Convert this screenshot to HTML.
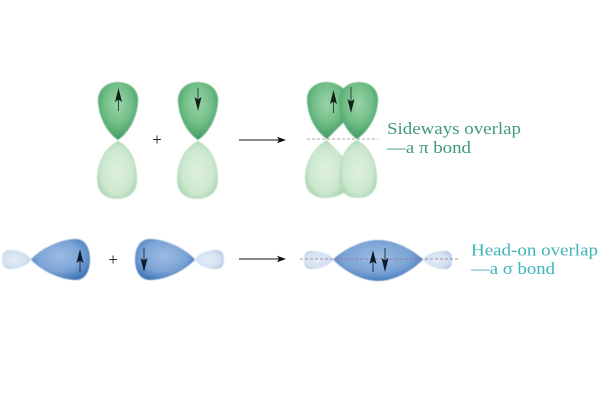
<!DOCTYPE html>
<html lang="en">
<head>
<meta charset="utf-8">
<title>Sideways and head-on orbital overlap</title>
<style>
html,body{margin:0;padding:0;background:#fff;width:600px;height:400px;overflow:hidden}
svg{display:block}
text{font-family:"Liberation Serif",serif}
</style>
</head>
<body>
<svg width="600" height="400" viewBox="0 0 600 400" xmlns="http://www.w3.org/2000/svg">
<defs>
<radialGradient id="gd" cx=".5" cy=".38" r=".62">
  <stop offset="0" stop-color="#9bd3a6"/><stop offset=".55" stop-color="#72be88"/><stop offset="1" stop-color="#3f9a62"/>
</radialGradient>
<radialGradient id="gl" cx=".5" cy=".52" r=".6">
  <stop offset="0" stop-color="#dff0df"/><stop offset=".65" stop-color="#cce7ce"/><stop offset="1" stop-color="#9dd0a8"/>
</radialGradient>
<radialGradient id="bd" cx=".48" cy=".42" r=".62">
  <stop offset="0" stop-color="#9dbce2"/><stop offset=".6" stop-color="#7ba3d6"/><stop offset="1" stop-color="#3f74b4"/>
</radialGradient>
<radialGradient id="bl" cx=".45" cy=".5" r=".6">
  <stop offset="0" stop-color="#e4ecf6"/><stop offset=".7" stop-color="#d3e0f0"/><stop offset="1" stop-color="#b4c9e4"/>
</radialGradient>
<filter id="s" x="-10%" y="-10%" width="120%" height="120%"><feGaussianBlur stdDeviation=".5"/></filter>
<filter id="t" x="-5%" y="-20%" width="110%" height="140%"><feGaussianBlur stdDeviation=".25"/></filter>
</defs>

<g filter="url(#s)">
  <!-- green lobes, left pair -->
  <path d="M118 140C105 131 98 114 98 100C98 89 107 82 118 82C129 82 138 89 138 100C138 114 131 131 118 140Z" fill="url(#gd)"/>
  <path d="M118 141C106 147 97 160 97 179C97 193 106 199 117 199C128 199 137 193 137 179C137 160 130 147 118 141Z" fill="url(#gl)"/>
  <!-- green lobes, second pair -->
  <path d="M198 140C185 131 178 114 178 100C178 89 187 82 198 82C209 82 218 89 218 100C218 114 211 131 198 140Z" fill="url(#gd)"/>
  <path d="M198 141C186 147 177 160 177 179C177 193 186 199 197 199C208 199 218 193 218 179C218 160 210 147 198 141Z" fill="url(#gl)"/>
  <!-- pi overlap -->
  <path d="M327 139C314 130 307 114 307 99C307 89 316 82 326 82C336 82 343 87 347 93L346 120Z" fill="url(#gd)"/>
  <path d="M357 139C344 130 339 115 339 101C339 89 348 82 359 82C370 82 378 89 378 100C378 114 370 130 357 139Z" fill="url(#gd)"/>
  <path d="M327 140C315 146 305 160 305 178C305 192 314 198 325 198C335 198 342 195 346 190L346 160Z" fill="url(#gl)"/>
  <path d="M357 140C345 146 339 160 339 178C339 192 347 198 358 198C369 198 377 192 377 178C377 160 369 146 357 140Z" fill="url(#gl)"/>
  <!-- blue lobes, left pair -->
  <path d="M31 259.500C28 254 20 250 10 250C4 250 2 254 2 259.500C2 265 4 269 10 269C20 269 28 265 31 259.500Z" fill="url(#bl)"/>
  <path d="M31 259.500C40 249 60 239 76 239C85 239 90 248 90 259.500C90 271 85 280 76 280C60 280 40 270 31 259.500Z" fill="url(#bd)"/>
  <path d="M195 259.500C186 249 166 239 150 239C140 239 135 248 135 259.500C135 271 140 280 150 280C166 280 186 270 195 259.500Z" fill="url(#bd)"/>
  <path d="M195 259.500C198 254 206 250 216 250C222 250 224 254 224 259.500C224 265 222 269 216 269C206 269 198 265 195 259.500Z" fill="url(#bl)"/>
  <!-- sigma overlap -->
  <path d="M333 259.500C330 254 321 251 311 251C305 251 304 255 304 259.500C304 265 305 269 311 269C321 269 330 265 333 259.500Z" fill="url(#bl)"/>
  <path d="M333 259.500C344 249 362 240 378 240C394 240 412 249 423 259.500C412 271 394 281 378 281C362 281 344 271 333 259.500Z" fill="url(#bd)"/>
  <path d="M423 259.500C426 254 435 251 445 251C451 251 452 255 452 259.500C452 265 451 269 445 269C435 269 426 265 423 259.500Z" fill="url(#bl)"/>
</g>

<!-- dashed axes -->
<line x1="307" y1="139" x2="378" y2="139" stroke="#8a8f80" stroke-width=".8" stroke-dasharray="3 2"/>
<line x1="300" y1="259" x2="460" y2="259" stroke="#a0688f" stroke-width=".8" stroke-dasharray="3 2"/>

<!-- electron spin arrows -->
<g stroke="#2f4a3c" stroke-width="1" fill="#10211a">
  <line x1="118.500" y1="97" x2="118.500" y2="111"/>
  <path d="M118.500 88L122 102L118.500 99.500L115 102Z" stroke="none"/>
  <line x1="198" y1="88" x2="198" y2="102"/>
  <path d="M198 111L194.500 97L198 99.500L201.500 97Z" stroke="none"/>
  <line x1="333.500" y1="99" x2="333.500" y2="113"/>
  <path d="M333.500 90L337 104L333.500 101.500L330 104Z" stroke="none"/>
  <line x1="351" y1="87" x2="351" y2="104"/>
  <path d="M351 113L347.500 99L351 101.500L354.500 99Z" stroke="none"/>
</g>
<g stroke="#1d3657" stroke-width="1" fill="#0d1a2c">
  <line x1="80" y1="258" x2="80" y2="272"/>
  <path d="M80 249L83.500 263L80 260.500L76.500 263Z" stroke="none"/>
  <line x1="144" y1="248" x2="144" y2="263"/>
  <path d="M144 272L140.500 258L144 260.500L147.500 258Z" stroke="none"/>
  <line x1="373" y1="259" x2="373" y2="272"/>
  <path d="M373 250L376.500 264L373 261.500L369.500 264Z" stroke="none"/>
  <line x1="385" y1="248" x2="385" y2="263"/>
  <path d="M385 272L381.500 258L385 260.500L388.500 258Z" stroke="none"/>
</g>

<!-- reaction arrows -->
<g stroke="#111" stroke-width="1" fill="#111">
  <line x1="239" y1="140" x2="280" y2="140"/>
  <path d="M286 140L277 136.800L279 140L277 143.200Z" stroke="none"/>
  <line x1="239" y1="259" x2="280" y2="259"/>
  <path d="M286 259L277 255.800L279 259L277 262.200Z" stroke="none"/>
</g>

<!-- plus signs -->
<text x="157" y="145" font-size="17" fill="#111" text-anchor="middle">+</text>
<text x="113" y="265" font-size="17" fill="#111" text-anchor="middle">+</text>

<!-- labels -->
<g filter="url(#t)">
  <text x="387" y="134" font-size="17" fill="#3f9a7c" textLength="134" lengthAdjust="spacingAndGlyphs">Sideways overlap</text>
  <text x="387" y="153" font-size="17" fill="#3f9a7c" textLength="84" lengthAdjust="spacingAndGlyphs">—a π bond</text>
  <text x="471" y="255.500" font-size="17" fill="#3fb3b8" textLength="127" lengthAdjust="spacingAndGlyphs">Head-on overlap</text>
  <text x="471" y="274" font-size="17" fill="#3fb3b8" textLength="84" lengthAdjust="spacingAndGlyphs">—a σ bond</text>
</g>
</svg>
</body>
</html>
